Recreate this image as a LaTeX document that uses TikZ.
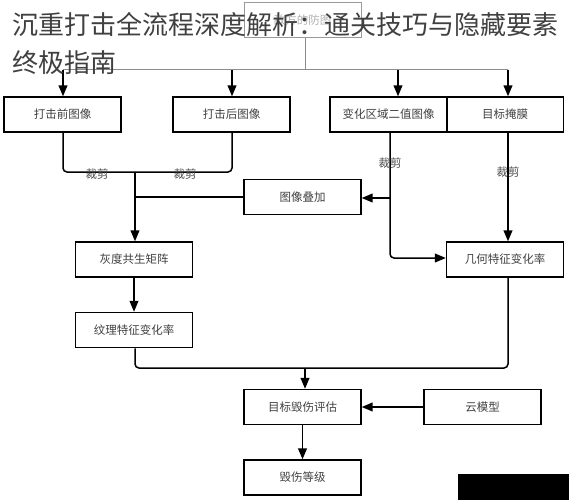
\documentclass[tikz,border=0pt]{standalone}
\usepackage{fontspec}
\newfontfamily\cjk{Noto Sans CJK SC}
\usetikzlibrary{arrows}
\tikzset{
	boxnode/.style = {rectangle, draw=black, line width=1.6pt, align=center,
		minimum width=117pt, minimum height=35pt, inner sep=0pt,
		font=\cjk\fontsize{11.5}{13}\selectfont, text=black!75},% etape
	topnode/.style = {boxnode, draw=black!40, line width=1pt, text=black!30},% image source
	cutlbl/.style = {font=\cjk\fontsize{11.5}{13}\selectfont, text=black!70, inner sep=0pt},% cut label
	flow/.style = {->, >=triangle 45, line width=1.5pt, rounded corners=4pt}
}
\begin{document}
\begin{tikzpicture}[x=1pt,y=-1pt]
	\useasboundingbox (0,0) rectangle (569,500);
	% source and first row
	\node [topnode] (src) at (302.5,20.5) {敌方的防图};
	\node [boxnode] (pre) at (62.5,114.5) {打击前图像};
	\node [boxnode] (post) at (231.5,114.5) {打击后图像};
	\node [boxnode] (bin) at (388.5,114.5) {变化区域二值图像};
	\node [boxnode] (mask) at (505,114.5) {目标掩膜};
	% middle
	\node [boxnode] (over) at (302.5,197) {图像叠加};
	\node [boxnode] (glcm) at (134,259.5) {灰度共生矩阵};
	\node [boxnode] (geo) at (505,259.5) {几何特征变化率};
	\node [boxnode] (tex) at (134,330) {纹理特征变化率};
	% bottom
	\node [boxnode] (eval) at (302.5,407) {目标毁伤评估};
	\node [boxnode] (cloud) at (482.5,407) {云模型};
	\node [boxnode] (grade) at (302.5,477.5) {毁伤等级};
	\coordinate (split) at (305,70);
	\coordinate (join) at (135,172);
	\coordinate (merge) at (305,368);
	% branches from the source
	\draw [line width=1pt, black!45, rounded corners=4pt] (src.south -| split) -- (split)
		(63,70) -- (508,70);
	\foreach \x/\n in {63/pre, 232/post, 398/bin, 508/mask}
		\draw [flow] (\x,70) -- (\n.north -| \x,0);
	% cuts
	\draw [flow, -] (pre.south -| 63,0) -- (63,172) -- (join);
	\draw [flow, -] (post.south -| 232,0) -- (232,172) -- (join);
	\draw [flow] (join) -- (glcm.north -| join);
	\draw [flow, -] (over.west) -- (over.west -| join);
	\draw [flow] (bin.south -| 390,0) -- (390,258) -- (geo.west |- 390,258);
	\draw [flow] (390,198) -- (over.east |- 390,198);
	\draw [flow] (mask.south -| 508,0) -- (geo.north -| 508,0);
	\node [cutlbl] (c1) at (97,174) {裁剪};
	\node [cutlbl] (c2) at (185,174) {裁剪};
	\node [cutlbl] (c3) at (390,163) {裁剪};
	\node [cutlbl] (c4) at (508,172) {裁剪};
	% features to evaluation
	\draw [flow] (glcm) -- (tex.north -| glcm);
	\draw [flow, -] (tex.south -| 135,0) -- (135,368) -- (merge);
	\draw [flow, -] (geo.south -| 508,0) -- (508,368) -- (merge);
	\draw [flow] (merge) -- (eval.north -| merge);
	\draw [flow] (cloud) -- (eval);
	\draw [flow] (eval) -- (grade);
	% title
	\node [anchor=west, inner sep=0pt, text=black!75, font=\cjk\fontsize{26}{30}\selectfont]
		(title1) at (12,25) {沉重打击全流程深度解析：通关技巧与隐藏要素};
	\node [anchor=west, inner sep=0pt, text=black!75, font=\cjk\fontsize{26}{30}\selectfont]
		(title2) at (12,63) {终极指南};
	% corner mark
	\fill [black] (458,474) rectangle (569,500);
\end{tikzpicture}
\end{document}
